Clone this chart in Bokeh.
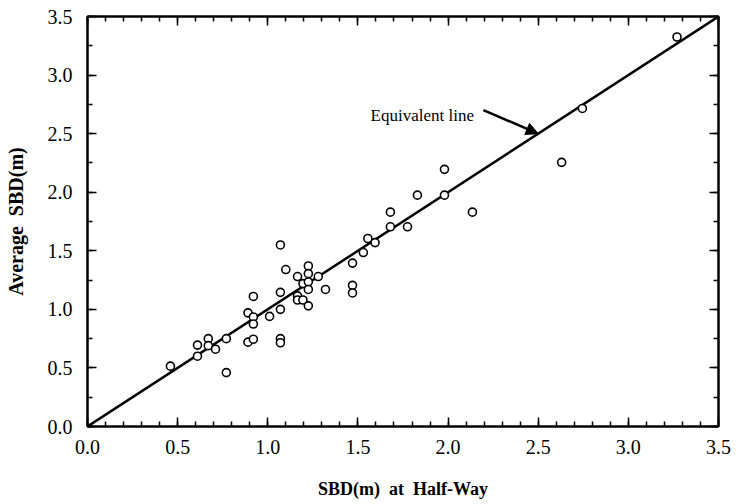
from bokeh.plotting import figure
from bokeh.models import (Range1d, LinearAxis, SingleIntervalTicker, PrintfTickFormatter,
                          Arrow, NormalHead, Label)
from bokeh.embed import file_html
from bokeh.resources import INLINE

# Data
sbd_half_way = [0.46, 0.61, 0.61, 0.67, 0.67, 0.71, 0.77, 0.77, 0.89, 0.89,
                0.92, 0.92, 0.92, 0.92, 1.01, 1.07, 1.07, 1.07, 1.07, 1.07,
                1.10, 1.165, 1.165, 1.165, 1.195, 1.195, 1.225, 1.225, 1.225, 1.225,
                1.225, 1.28, 1.32, 1.47, 1.47, 1.47, 1.53, 1.555, 1.595, 1.68,
                1.68, 1.775, 1.83, 1.98, 1.98, 2.135, 2.63, 2.745, 3.27]
sbd_average = [0.515, 0.60, 0.695, 0.75, 0.69, 0.66, 0.75, 0.46, 0.97, 0.72,
               1.11, 0.935, 0.875, 0.745, 0.94, 1.55, 1.145, 1.0, 0.75, 0.715,
               1.34, 1.28, 1.115, 1.08, 1.22, 1.08, 1.37, 1.305, 1.235, 1.17,
               1.03, 1.28, 1.17, 1.395, 1.205, 1.14, 1.485, 1.605, 1.57, 1.83,
               1.705, 1.705, 1.975, 2.195, 1.975, 1.83, 2.255, 2.715, 3.325]
equiv_line = [0.0, 3.5]
axis_min, axis_max = 0.0, 3.5

SERIF = "Liberation Serif"

p = figure(width=739, height=504, output_backend="svg", toolbar_location=None,
           x_range=Range1d(axis_min, axis_max), y_range=Range1d(axis_min, axis_max),
           min_border_left=87, min_border_right=21, min_border_top=16, min_border_bottom=78,
           x_axis_location=None, y_axis_location=None)
p.grid.visible = False
p.outline_line_color = "black"
p.outline_line_width = 2
p.background_fill_color = "white"
p.border_fill_color = "white"

def make_axis(interval, nminor, labels=True, title=None, title_size="19px"):
    ax = LinearAxis(ticker=SingleIntervalTicker(interval=interval, num_minor_ticks=nminor),
                    formatter=PrintfTickFormatter(format="%.1f"))
    ax.axis_line_width = 2
    ax.axis_line_color = "black"
    ax.major_tick_in = 9
    ax.major_tick_out = 0
    ax.minor_tick_in = 5
    ax.minor_tick_out = 0
    ax.major_tick_line_width = 1.5
    ax.minor_tick_line_width = 1.5
    ax.major_tick_line_color = "black"
    ax.minor_tick_line_color = "black"
    if labels:
        ax.major_label_text_font = SERIF
        ax.major_label_text_font_size = "20px"
        ax.major_label_text_color = "black"
    else:
        ax.major_label_text_font_size = "0px"
        ax.major_label_text_color = None
        ax.major_label_standoff = 0
    if title:
        ax.axis_label = title
        ax.axis_label_text_font = SERIF
        ax.axis_label_text_font_style = "bold"
        ax.axis_label_text_font_size = title_size
        ax.axis_label_text_color = "black"
    return ax

xb = make_axis(0.5, 5, True, "SBD(m) \u00a0at \u00a0Half-Way", "18px")
xb.major_label_standoff = 13
xb.axis_label_standoff = 22
p.add_layout(xb, "below")

yl = make_axis(0.5, 2, True, "Average \u00a0SBD(m)", "20px")
yl.major_label_standoff = 15
yl.axis_label_standoff = 18
p.add_layout(yl, "left")

xt = make_axis(0.5, 5, False)
p.add_layout(xt, "above")
yr = make_axis(0.5, 2, False)
p.add_layout(yr, "right")

# Equivalent line
p.line(equiv_line, equiv_line, line_color="black", line_width=2.5)

# Data points
p.scatter(sbd_half_way, sbd_average, marker="circle", size=8, fill_color="white",
          line_color="black", line_width=1.6)

# Annotation
p.add_layout(Arrow(x_start=2.196, y_start=2.70, x_end=2.50, y_end=2.50,
                   line_width=2.5, line_color="black",
                   end=NormalHead(size=12, fill_color="black", line_color="black")))
p.add_layout(Label(x=1.57, y=2.656, text="Equivalent line", text_font=SERIF,
                   text_font_size="17px", text_color="black", text_baseline="alphabetic"))

open("out.html", "w").write(file_html(p, INLINE))
